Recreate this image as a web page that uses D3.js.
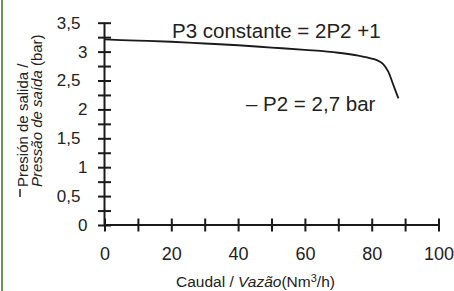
<!DOCTYPE html>
<meta charset="utf-8">
<style>
    body { margin: 0; background: #fff; }
    svg { display: block; font-family: "Liberation Sans", Arial, sans-serif; }
    .axis path, .axis line { stroke: #1a1a1a; stroke-width: 2px; }
    .axis text { fill: #222; }
</style>
<script src="https://cdn.jsdelivr.net/npm/d3@7"></script>
<svg width="454" height="291"></svg>
<script>
    // caudal (Nm3/h) e pressão de saída (bar)
    var caudal = [0, 10, 20, 30, 40, 50, 60, 70, 76, 80, 82, 83.5, 85, 86.5, 88];
    var presion = [3.21, 3.19, 3.17, 3.14, 3.11, 3.07, 3.03, 2.98, 2.93, 2.88, 2.84, 2.78, 2.65, 2.42, 2.19];

    var yTicks = d3.range(0, 3.51, 0.25);
    var yLabels = [0, 0.5, 1, 1.5, 2, 2.5, 3, 3.5];
    var xTicks = d3.range(0, 101, 10);
    var xLabels = [0, 20, 40, 60, 80, 100];

    var svg = d3.select("svg");

    // borda verde à esquerda
    svg.append("rect").attr("x", 1).attr("y", 0).attr("width", 2).attr("height", 291)
        .attr("fill", "#6a9460");

    var x = d3.scaleLinear().domain([0, 100]).range([104.5, 438.5]);
    var y = d3.scaleLinear().domain([0, 3.5]).range([225, 22.7]);

    var fmt = function (d) { return String(d).replace(".", ","); };

    var gy = svg.append("g").attr("class", "axis")
        .attr("transform", "translate(" + x(0) + ",0)")
        .call(d3.axisLeft(y).tickValues(yTicks).tickSize(6.5).tickSizeOuter(0)
            .tickFormat(function (d) { return yLabels.indexOf(d) >= 0 ? fmt(d) : ""; }));
    gy.selectAll(".tick line").attr("x1", 6.5);
    gy.selectAll(".tick text")
        .attr("x", function (d) { return Number.isInteger(d) ? -17 : -24; })
        .style("font-size", "17px");

    var gx = svg.append("g").attr("class", "axis")
        .attr("transform", "translate(0," + y(0) + ")")
        .call(d3.axisBottom(x).tickValues(xTicks).tickSize(6.5).tickSizeOuter(0)
            .tickFormat(function (d) { return xLabels.indexOf(d) >= 0 ? d : ""; }));
    gx.selectAll(".tick line").attr("y1", -6.5);
    gx.selectAll(".tick text").attr("y", 22).style("font-size", "18px");
    gx.select(".domain").attr("d", "M" + x(0) + ",0H" + x(100));
    gy.select(".domain").attr("d", "M0," + y(3.5) + "V" + y(0));
    svg.selectAll(".axis").attr("font-family", null).attr("font-size", null);

    var line = d3.line()
        .x(function (d, i) { return x(caudal[i]); })
        .y(function (d) { return y(d); })
        .curve(d3.curveMonotoneX);

    svg.append("path")
        .attr("d", line(presion))
        .attr("fill", "none")
        .attr("stroke", "#1a1a1a")
        .attr("stroke-width", 1.8);

    // anotações
    svg.append("text").attr("x", 172).attr("y", 38)
        .style("font-size", "20.5px").attr("fill", "#222")
        .text("P3 constante = 2P2 +1");
    svg.append("text").attr("x", 246).attr("y", 111)
        .style("font-size", "20.5px").attr("fill", "#222")
        .text("\u2013 P2 = 2,7 bar");

    // título do eixo x
    var tx = svg.append("text").attr("x", 176).attr("y", 287)
        .style("font-size", "15.5px").attr("fill", "#222");
    tx.append("tspan").text("Caudal / ");
    tx.append("tspan").style("font-style", "italic").text("Vazão");
    tx.append("tspan").text("(Nm");
    tx.append("tspan").attr("dy", -5).style("font-size", "11px").text("3");
    tx.append("tspan").attr("dy", 5).text("/h)");

    // título do eixo y
    var ty = svg.append("text").attr("transform", "translate(28,187) rotate(-90)")
        .style("font-size", "15px").attr("fill", "#222");
    ty.append("tspan").attr("x", 0).attr("y", 0).text("Presión de salida /");
    ty.append("tspan").attr("x", 0).attr("y", 13.5).style("font-style", "italic").text("Pressão de saída");
    ty.append("tspan").text(" (bar)");

    svg.append("line").attr("x1", 20).attr("x2", 20).attr("y1", 189).attr("y2", 197)
        .attr("stroke", "#222").attr("stroke-width", 1.5);
</script>
